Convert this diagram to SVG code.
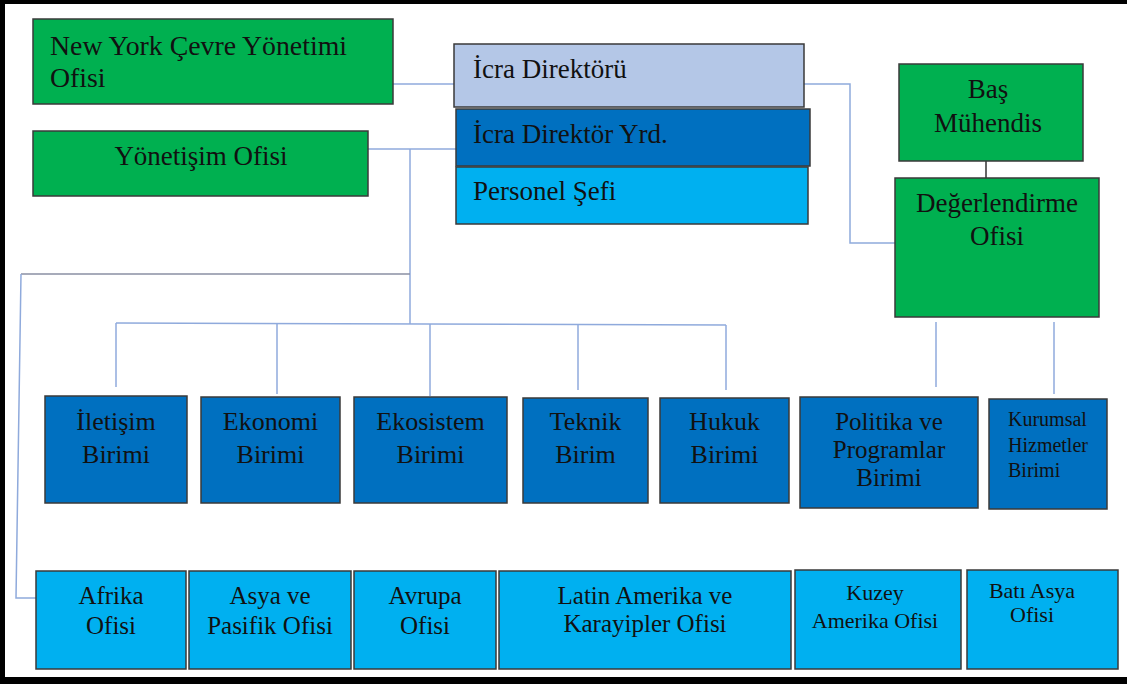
<svg xmlns="http://www.w3.org/2000/svg" width="1127" height="684" viewBox="0 0 1127 684">
  <style>
    .box { stroke: #3a3a3a; stroke-width: 1.5; }
    .green { fill: #00B050; }
    .pale { fill: #B4C7E7; }
    .dark { fill: #0070C0; }
    .light { fill: #00B0F0; }
    .lbl { font-family: 'Liberation Serif', 'DejaVu Serif', serif; fill: #111; }
    .t28 { font-size: 27.8px; }
    .t27 { font-size: 27px; }
    .t26 { font-size: 26px; }
    .t25 { font-size: 25px; }
    .t22 { font-size: 22px; }
    .t20 { font-size: 20px; }
    .mid { text-anchor: middle; }
    .link { fill: none; stroke: #8FAADC; stroke-width: 1.5; }
    .link-grey { fill: none; stroke: #8a8fa3; stroke-width: 1.5; }
    .link-dark { fill: none; stroke: #333; stroke-width: 1.5; }
  </style>

  <rect x="0" y="0" width="1127" height="684" fill="#fff"/>
  <!-- frame -->
  <g id="frame" fill="#000">
    <rect x="0" y="0" width="1127" height="4"/>
    <rect x="0" y="0" width="5" height="684"/>
    <rect x="0" y="677" width="1127" height="7"/>
  </g>

  <!-- connectors -->
  <g id="connectors">
    <line class="link" x1="393" y1="84" x2="454" y2="84"/>
    <polyline class="link" points="804,84 850,84 850,243 895,243"/>
    <line class="link" x1="368" y1="149" x2="456" y2="149"/>
    <line class="link" x1="410" y1="149" x2="410" y2="324"/>
    <line class="link-grey" x1="410" y1="274" x2="21" y2="274"/>
    <polyline class="link" points="21,274 16,598 36,598"/>
    <line class="link" x1="116" y1="323" x2="726" y2="325"/>
    <line class="link" x1="116" y1="323" x2="116" y2="387"/>
    <line class="link" x1="277" y1="323.5" x2="277" y2="394"/>
    <line class="link" x1="430" y1="324" x2="430" y2="396"/>
    <line class="link" x1="578" y1="324.5" x2="578" y2="390"/>
    <line class="link" x1="726" y1="325" x2="726" y2="390"/>
    <line class="link" x1="936" y1="322" x2="936" y2="387"/>
    <line class="link" x1="1054" y1="322" x2="1054" y2="394"/>
    <line class="link-dark" x1="986" y1="161" x2="986" y2="178"/>
  </g>

  <!-- top level -->
  <g id="ny-office" class="lbl">
    <rect class="box green" x="33" y="19" width="360" height="85"/>
    <text class="t28" x="50" y="55">New York Çevre Yönetimi</text>
    <text class="t28" x="50" y="87">Ofisi</text>
  </g>
  <g id="governance-office" class="lbl">
    <rect class="box green" x="33" y="131" width="335" height="65"/>
    <text class="t27 mid" x="201" y="165">Yönetişim Ofisi</text>
  </g>
  <g id="executive-director" class="lbl">
    <rect class="box pale" x="454" y="44" width="350" height="63"/>
    <text class="t27" x="473" y="78">İcra Direktörü</text>
  </g>
  <g id="deputy-director" class="lbl">
    <rect class="box dark" x="456" y="109" width="354" height="57"/>
    <text class="t27" x="473" y="143">İcra Direktör Yrd.</text>
  </g>
  <g id="chief-of-staff" class="lbl">
    <rect class="box light" x="456" y="167" width="352" height="57"/>
    <text class="t27" x="473" y="200">Personel Şefi</text>
  </g>
  <g id="chief-engineer" class="lbl">
    <rect class="box green" x="899" y="64" width="184" height="97"/>
    <text class="t27 mid" x="988" y="98">Baş</text>
    <text class="t27 mid" x="988" y="132">Mühendis</text>
  </g>
  <g id="evaluation-office" class="lbl">
    <rect class="box green" x="895" y="178" width="204" height="139"/>
    <text class="t27 mid" x="997" y="212">Değerlendirme</text>
    <text class="t27 mid" x="997" y="245">Ofisi</text>
  </g>

  <!-- units -->
  <g id="communication-unit" class="lbl">
    <rect class="box dark" x="45" y="396" width="142" height="107"/>
    <text class="t26 mid" x="116" y="430">İletişim</text>
    <text class="t26 mid" x="116" y="463">Birimi</text>
  </g>
  <g id="economy-unit" class="lbl">
    <rect class="box dark" x="201" y="397" width="139" height="106"/>
    <text class="t26 mid" x="270.5" y="430">Ekonomi</text>
    <text class="t26 mid" x="270.5" y="463">Birimi</text>
  </g>
  <g id="ecosystem-unit" class="lbl">
    <rect class="box dark" x="354" y="397" width="153" height="106"/>
    <text class="t26 mid" x="430.5" y="430">Ekosistem</text>
    <text class="t26 mid" x="430.5" y="463">Birimi</text>
  </g>
  <g id="technical-unit" class="lbl">
    <rect class="box dark" x="523" y="398" width="125" height="105"/>
    <text class="t26 mid" x="585.5" y="430">Teknik</text>
    <text class="t26 mid" x="585.5" y="463">Birim</text>
  </g>
  <g id="law-unit" class="lbl">
    <rect class="box dark" x="660" y="398" width="129" height="105"/>
    <text class="t26 mid" x="724.5" y="430">Hukuk</text>
    <text class="t26 mid" x="724.5" y="463">Birimi</text>
  </g>
  <g id="policy-unit" class="lbl">
    <rect class="box dark" x="800" y="397" width="178" height="111"/>
    <text class="t25 mid" x="889" y="430">Politika ve</text>
    <text class="t25 mid" x="889" y="458">Programlar</text>
    <text class="t25 mid" x="889" y="486">Birimi</text>
  </g>
  <g id="corporate-services-unit" class="lbl">
    <rect class="box dark" x="989" y="399" width="118" height="110"/>
    <text class="t20" x="1008" y="426">Kurumsal</text>
    <text class="t20" x="1008" y="452">Hizmetler</text>
    <text class="t20" x="1008" y="477">Birimi</text>
  </g>

  <!-- regional offices -->
  <g id="africa-office" class="lbl">
    <rect class="box light" x="36" y="571" width="150" height="98"/>
    <text class="t25 mid" x="111" y="604">Afrika</text>
    <text class="t25 mid" x="111" y="634">Ofisi</text>
  </g>
  <g id="asia-pacific-office" class="lbl">
    <rect class="box light" x="189" y="571" width="162" height="98"/>
    <text class="t25 mid" x="270" y="604">Asya ve</text>
    <text class="t25 mid" x="270" y="634">Pasifik Ofisi</text>
  </g>
  <g id="europe-office" class="lbl">
    <rect class="box light" x="354" y="571" width="142" height="98"/>
    <text class="t25 mid" x="425" y="604">Avrupa</text>
    <text class="t25 mid" x="425" y="634">Ofisi</text>
  </g>
  <g id="latin-america-office" class="lbl">
    <rect class="box light" x="499" y="571" width="292" height="98"/>
    <text class="t25 mid" x="645" y="604">Latin Amerika ve</text>
    <text class="t25 mid" x="645" y="632">Karayipler Ofisi</text>
  </g>
  <g id="north-america-office" class="lbl">
    <rect class="box light" x="795" y="570" width="166" height="99"/>
    <text class="t22 mid" x="875" y="600">Kuzey</text>
    <text class="t22 mid" x="875" y="628">Amerika Ofisi</text>
  </g>
  <g id="west-asia-office" class="lbl">
    <rect class="box light" x="967" y="570" width="151" height="99"/>
    <text class="t22 mid" x="1032" y="598">Batı Asya</text>
    <text class="t22 mid" x="1032" y="622">Ofisi</text>
  </g>
</svg>
